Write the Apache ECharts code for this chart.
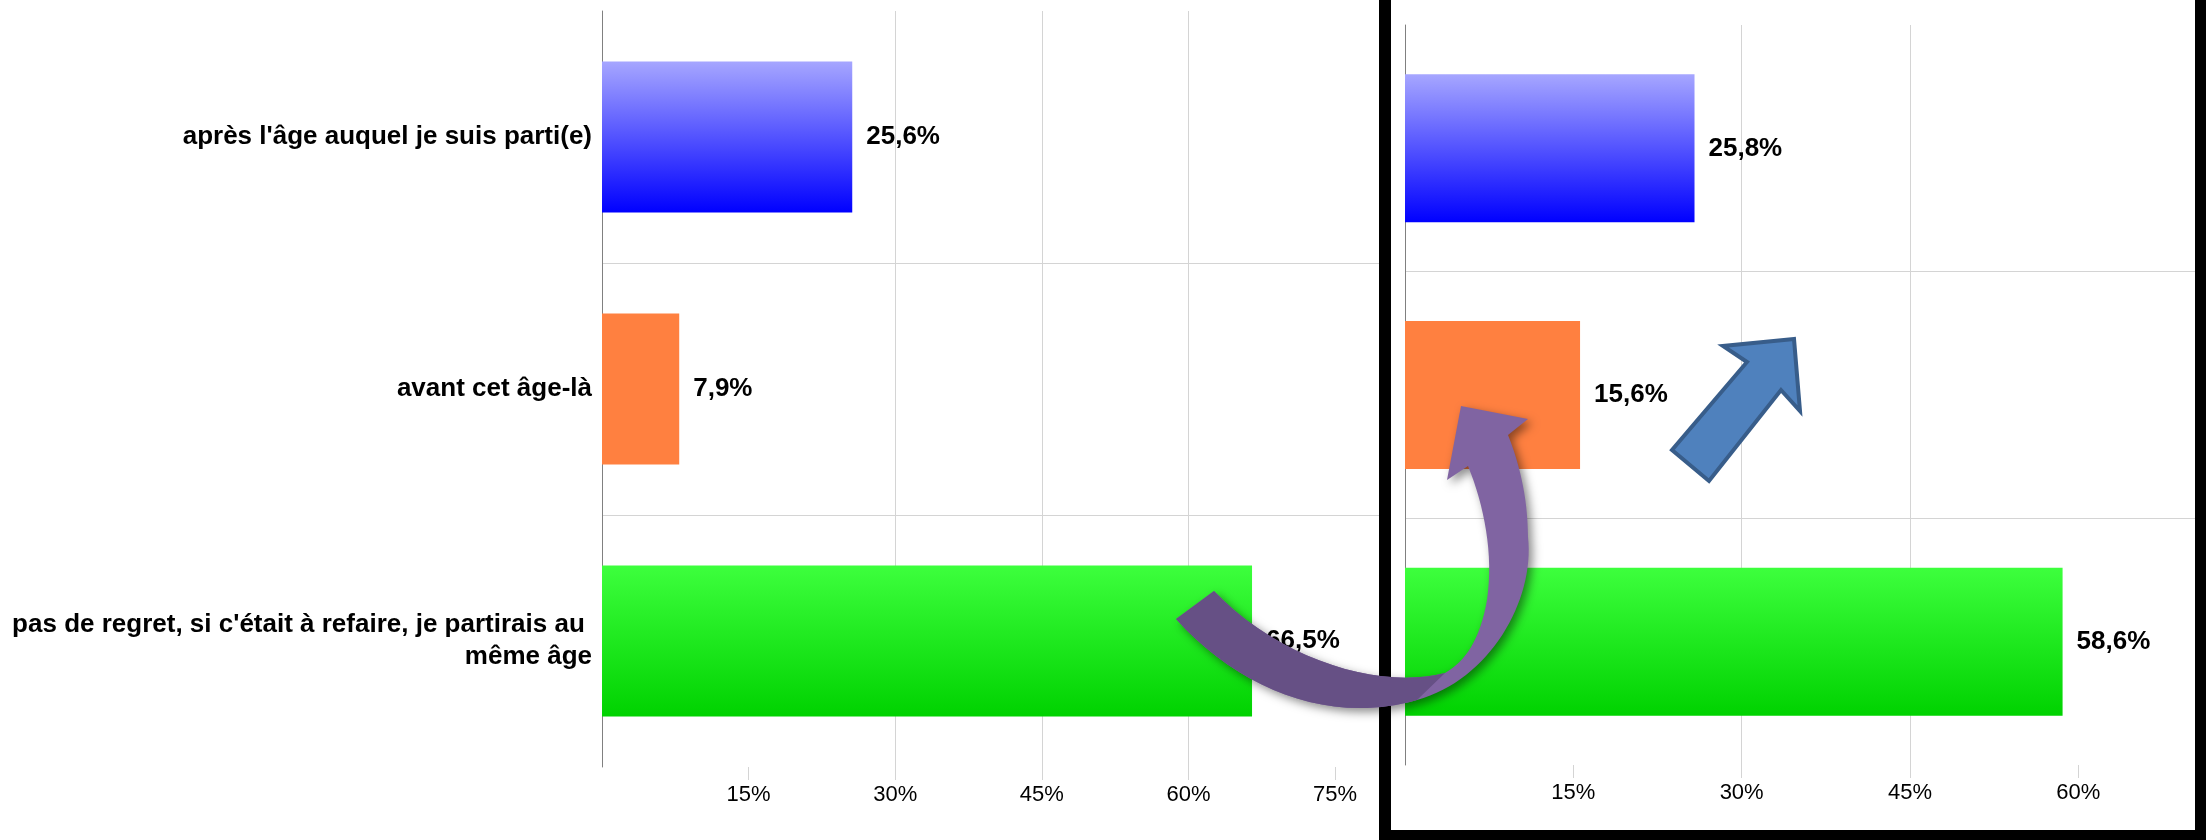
<!DOCTYPE html>
<html>
<head>
<meta charset="utf-8">
<script src="https://cdn.jsdelivr.net/npm/echarts@6/dist/echarts.min.js"></script>
<style>
  html, body { margin: 0; padding: 0; background: #fff; }
  #chart { width: 2206px; height: 840px; }
</style>
</head>
<body>
<div id="chart"></div>
<script>
// ---- data ----
const categories = [
  "après l'âge auquel je suis parti(e)",
  "avant cet âge-là",
  "pas de regret, si c'était à refaire, je partirais au \nmême âge"
];
const valuesLeft = [25.6, 7.9, 66.5];
const valuesRight = [25.8, 15.6, 58.6];
const leftTicks = [15, 30, 45, 60, 75];
const rightTicks = [15, 30, 45, 60];

// ---- styles ----
const FONT = 'Liberation Sans, Arial, sans-serif';
const GRID_COLOR = '#d4d4d4';
function grad(top, bottom) {
  return new echarts.graphic.LinearGradient(0, 0, 0, 1, [
    { offset: 0, color: top }, { offset: 1, color: bottom }
  ]);
}
const barFills = [grad('#A6A6FF', '#0000FF'), '#FF8040', grad('#3DFF3D', '#00D200')];

function fmt(v) { return v.toFixed(1).replace('.', ',') + '%'; }

function makeSeries(values, idx, z) {
  return {
    type: 'bar',
    xAxisIndex: idx, yAxisIndex: idx,
    z: z,
    barCategoryGap: '40%',
    data: values.map((v, i) => ({ value: v, itemStyle: { color: barFills[i] } })),
    label: {
      show: true, position: 'right', distance: 14,
      formatter: p => fmt(p.value),
      fontFamily: FONT, fontSize: 26, fontWeight: 'bold', color: '#000'
    }
  };
}

function valueAxis(idx, max, ticks, z) {
  return {
    gridIndex: idx, type: 'value', min: 0, max: max, interval: 15, z: z,
    axisLine: { show: false },
    axisTick: { show: true, length: 13, customValues: ticks, lineStyle: { color: GRID_COLOR } },
    axisLabel: {
      customValues: ticks, formatter: v => v + '%',
      fontFamily: FONT, fontSize: 22, color: '#000', margin: 17
    },
    splitLine: { show: true, showMinLine: false, showMaxLine: false, lineStyle: { color: GRID_COLOR } }
  };
}

function catAxis(idx, showLabels, z) {
  return {
    gridIndex: idx, type: 'category', inverse: true, data: categories, z: z,
    axisLine: { show: true, lineStyle: { color: '#808080' } },
    axisTick: { show: false },
    axisLabel: {
      show: showLabels, fontFamily: FONT, fontSize: 26, fontWeight: 'bold',
      color: '#000', lineHeight: 32, margin: 10
    },
    splitLine: { show: true, showMinLine: false, showMaxLine: false, lineStyle: { color: GRID_COLOR } }
  };
}

// decorative arrows: custom shape drawn from a command list
const CmdPath = echarts.graphic.extendShape({
  shape: { cmds: [] },
  buildPath: function (ctx, shape) {
    (shape.cmds || []).forEach(function (c) {
      if (c[0] === 'M') ctx.moveTo(c[1], c[2]);
      else if (c[0] === 'L') ctx.lineTo(c[1], c[2]);
      else if (c[0] === 'C') ctx.bezierCurveTo(c[1], c[2], c[3], c[4], c[5], c[6]);
      else if (c[0] === 'Z') ctx.closePath();
    });
  }
});
echarts.graphic.registerShape('cmdPath', CmdPath);

const purpleLight = [
  ['M', 1176, 619], ['C', 1240, 690, 1330, 725, 1417, 700], ['C', 1490, 680, 1535, 600, 1528, 537],
  ['C', 1528, 495, 1518, 460, 1508, 435], ['L', 1528, 419], ['L', 1461, 406], ['L', 1447, 480], ['L', 1468, 466],
  ['C', 1484, 505, 1494, 555, 1487, 600], ['C', 1480, 640, 1465, 662, 1445, 673],
  ['C', 1380, 690, 1280, 660, 1214, 591], ['Z']
];
const purpleDark = [
  ['M', 1176, 619], ['C', 1240, 690, 1330, 725, 1417, 700], ['L', 1445, 673],
  ['C', 1380, 690, 1280, 660, 1214, 591], ['Z']
];
const blueArrow = [
  ['M', 1794, 339], ['L', 1723, 346], ['L', 1747, 362], ['L', 1672, 450], ['L', 1709, 481],
  ['L', 1781, 390], ['L', 1800, 411], ['Z']
];

const chart = echarts.init(document.getElementById('chart'), null, { renderer: 'canvas' });
chart.setOption({
  animation: false,
  backgroundColor: '#ffffff',
  grid: [
    { left: 602, top: 11, width: 782, height: 756, outerBoundsMode: 'none', containLabel: false },
    { left: 1405, top: 25, width: 790, height: 740, outerBoundsMode: 'none', containLabel: false }
  ],
  xAxis: [valueAxis(0, 80, leftTicks, 1), valueAxis(1, 70.4, rightTicks, 4)],
  yAxis: [catAxis(0, true, 1), catAxis(1, false, 4)],
  series: [makeSeries(valuesLeft, 0, 2), makeSeries(valuesRight, 1, 5)],
  graphic: [
    // right panel with black frame
    { type: 'rect', z: 3, silent: true, shape: { x: 1379, y: 0, width: 827, height: 840 }, style: { fill: '#ffffff' } },
    { type: 'rect', z: 3, silent: true, shape: { x: 1379, y: 0, width: 12, height: 840 }, style: { fill: '#000000' } },
    { type: 'rect', z: 3, silent: true, shape: { x: 2195, y: 0, width: 11, height: 840 }, style: { fill: '#000000' } },
    { type: 'rect', z: 3, silent: true, shape: { x: 1379, y: 830, width: 827, height: 10 }, style: { fill: '#000000' } },
    // arrows
    { type: 'cmdPath', z: 10, silent: true, shape: { cmds: purpleLight },
      style: { fill: '#8064A2', shadowBlur: 10, shadowOffsetX: 4, shadowOffsetY: 4, shadowColor: 'rgba(0,0,0,0.45)' } },
    { type: 'cmdPath', z: 11, silent: true, shape: { cmds: purpleDark }, style: { fill: '#665085' } },
    { type: 'cmdPath', z: 10, silent: true, shape: { cmds: blueArrow },
      style: { fill: '#4F81BD', stroke: '#385D8A', lineWidth: 4, lineJoin: 'miter' } }
  ]
});
</script>
</body>
</html>
